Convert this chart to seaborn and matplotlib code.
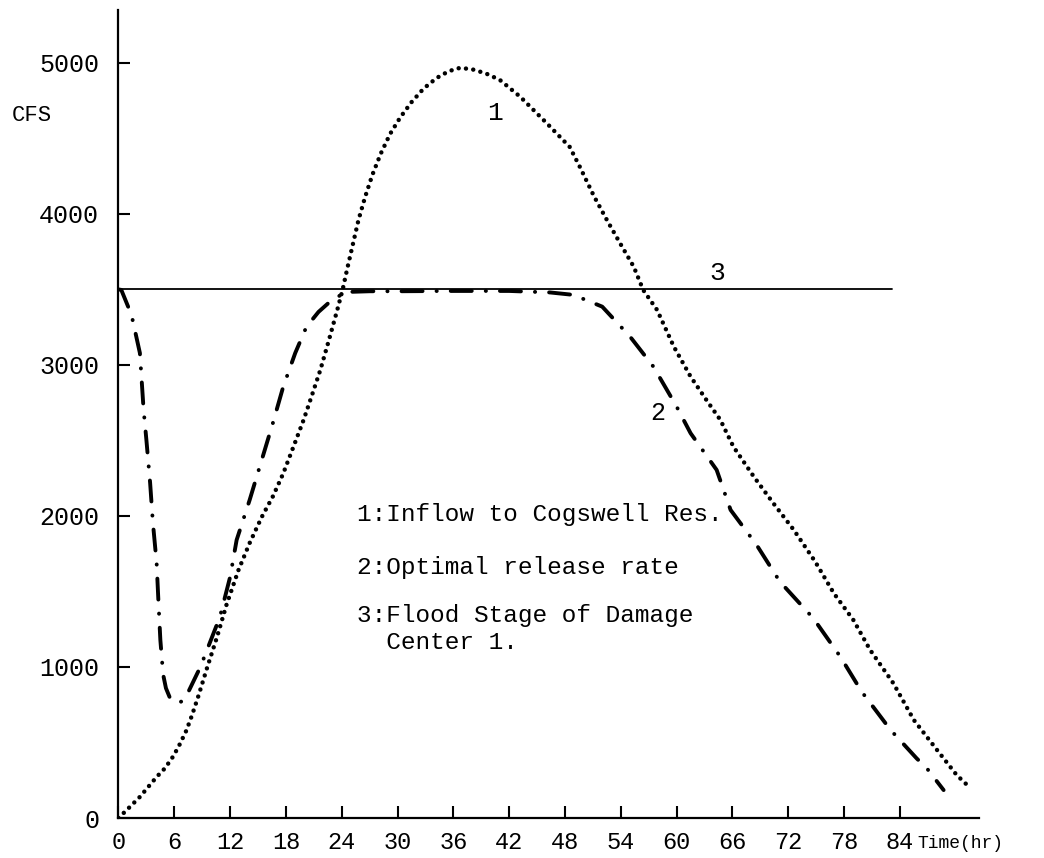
import numpy as np
import pandas as pd
import seaborn as sns
import matplotlib
matplotlib.use("Agg")
import matplotlib.pyplot as plt

# ---------------- data ----------------
inflow_hours = [0, 1.0, 2.3, 4.1, 5.0, 5.9, 6.6, 7.3, 7.9, 8.6, 9.5, 10.6, 11.6, 12.9,
                14.1, 15.4, 16.6, 17.7, 18.8, 19.9, 20.8, 21.7, 22.6, 23.5, 24.1, 24.6,
                25.2, 25.8, 26.5, 27.3, 28.2, 29.2, 30.3, 31.5, 32.8, 34.2, 35.5, 36.7,
                38.0, 39.5, 41.0, 43.2, 46.0, 48.5, 49.6, 51.1, 52.5, 53.9, 55.4, 56.4,
                57.9, 59.7, 61.5, 63.2, 64.7, 66.1, 68.3, 70.4, 72.6, 74.9, 76.9, 79.0,
                80.8, 83.3, 85.5, 88.0, 90.1, 91.6]
inflow_cfs = [0, 60, 140, 272, 330, 410, 490, 580, 680, 810, 990, 1200, 1410, 1642,
              1821, 1993, 2130, 2280, 2457, 2636, 2800, 2967, 3160, 3360, 3500, 3640,
              3800, 3960, 4110, 4260, 4400, 4530, 4640, 4740, 4830, 4900, 4945, 4967,
              4958, 4930, 4887, 4775, 4603, 4444, 4311, 4119, 3960, 3808, 3649, 3497,
              3364, 3121, 2923, 2768, 2636, 2459, 2260, 2084, 1907, 1697, 1488, 1311,
              1113, 892, 649, 450, 285, 197]

release_hours = [0, 0.3, 1.4, 2.3, 2.7, 3.0, 3.4, 3.7, 4.1, 4.3, 4.5, 4.8, 5.1, 5.5, 6.0,
                 6.4, 6.9, 7.5, 8.8, 10.9, 12.0, 12.7, 14.1, 15.4, 16.6, 17.7, 19.0, 20.2,
                 21.5, 22.7, 24.4, 27.0, 30.0, 36.0, 42.0, 46.4, 48.9, 52.0, 55.0, 57.5,
                 60.0, 61.5, 64.3, 65.8, 68.6, 71.1, 74.7, 77.6, 79.9, 83.0, 85.8, 86.9, 88.7]
release_cfs = [3500, 3497, 3331, 3079, 2702, 2503, 2219, 1954, 1689, 1424, 1179, 950, 860, 800, 770,
               762, 775, 834, 1000, 1331, 1596, 1841, 2106, 2371, 2616, 2854, 3079, 3252,
               3351, 3417, 3483, 3488, 3488, 3490, 3490, 3480, 3464, 3386, 3187, 2989,
               2724, 2548, 2305, 2040, 1808, 1565, 1322, 1068, 836, 583, 395, 329, 185]

flood_hours = [0, 83.1]
flood_cfs = [3500, 3500]

x_ticks = [0, 6, 12, 18, 24, 30, 36, 42, 48, 54, 60, 66, 72, 78, 84]
y_ticks = [0, 1000, 2000, 3000, 4000, 5000]

legend_lines = ["1:Inflow to Cogswell Res.",
                "2:Optimal release rate",
                "3:Flood Stage of Damage",
                "  Center 1."]

# ---------------- style ----------------
sns.set_theme(style="ticks")
plt.rcParams["font.family"] = ["Liberation Mono", "DejaVu Sans Mono"]

fig = plt.figure(figsize=(10.44, 8.58), dpi=100)
ax = fig.add_axes([0.1135, 0.0466, 0.8242, 0.9417])

df_in = pd.DataFrame({"hr": inflow_hours, "cfs": inflow_cfs})
df_rel = pd.DataFrame({"hr": release_hours, "cfs": release_cfs})
df_fl = pd.DataFrame({"hr": flood_hours, "cfs": flood_cfs})

sns.lineplot(data=df_fl, x="hr", y="cfs", ax=ax, color="black",
             sort=False, estimator=None)
ax.lines[-1].set_linewidth(1.3)

sns.lineplot(data=df_in, x="hr", y="cfs", ax=ax, color="black",
             sort=False, estimator=None)
line_in = ax.lines[-1]
line_in.set_linewidth(3.2)
line_in.set_linestyle((0, (0.01, 1.65)))
line_in.set_dash_capstyle("round")

sns.lineplot(data=df_rel, x="hr", y="cfs", ax=ax, color="black",
             sort=False, estimator=None)
line_rel = ax.lines[-1]
line_rel.set_linewidth(2.8)
line_rel.set_linestyle((0, (5.4, 3.6, 0.05, 3.6)))
line_rel.set_dash_capstyle("round")
line_rel.set_solid_capstyle("round")

ax.set_xlim(0, 92.5)
ax.set_ylim(0, 5350)
ax.set_xticks(x_ticks)
ax.set_yticks(y_ticks)
ax.set_xticklabels([str(t) for t in x_ticks])
ax.set_yticklabels([str(t) for t in y_ticks])
ax.set_xlabel("")
ax.set_ylabel("")

for s in ["top", "right"]:
    ax.spines[s].set_visible(False)
for s in ["left", "bottom"]:
    ax.spines[s].set_linewidth(1.6)
    ax.spines[s].set_color("black")

ax.tick_params(axis="x", direction="in", length=8.6, width=1.5, pad=9,
               labelsize=17, colors="black")
ax.tick_params(axis="y", direction="in", length=8.6, width=1.5, pad=14,
               labelsize=18, colors="black")

# axis titles
ax.text(-0.124, 0.869, "CFS", transform=ax.transAxes, fontsize=16,
        ha="left", va="center", color="black")
ax.annotate("Time(hr)", xy=(85.9, 0), xycoords=("data", "axes fraction"),
            xytext=(0, -25), textcoords="offset pixels",
            fontsize=13, ha="left", va="center", color="black",
            annotation_clip=False)

# curve labels
ax.text(40.5, 4669, "1", fontsize=19, ha="center", va="center", color="black")
ax.text(58.0, 2682, "2", fontsize=18, ha="center", va="center", color="black")
ax.text(64.4, 3609, "3", fontsize=19, ha="center", va="center", color="black")

# description block
text_y = [2007, 1662, 1344, 1159]
for line, yv in zip(legend_lines, text_y):
    ax.text(25.6, yv, line, fontsize=17.6, ha="left", va="center", color="black")

fig.savefig("out.png", dpi=100, facecolor="white")
